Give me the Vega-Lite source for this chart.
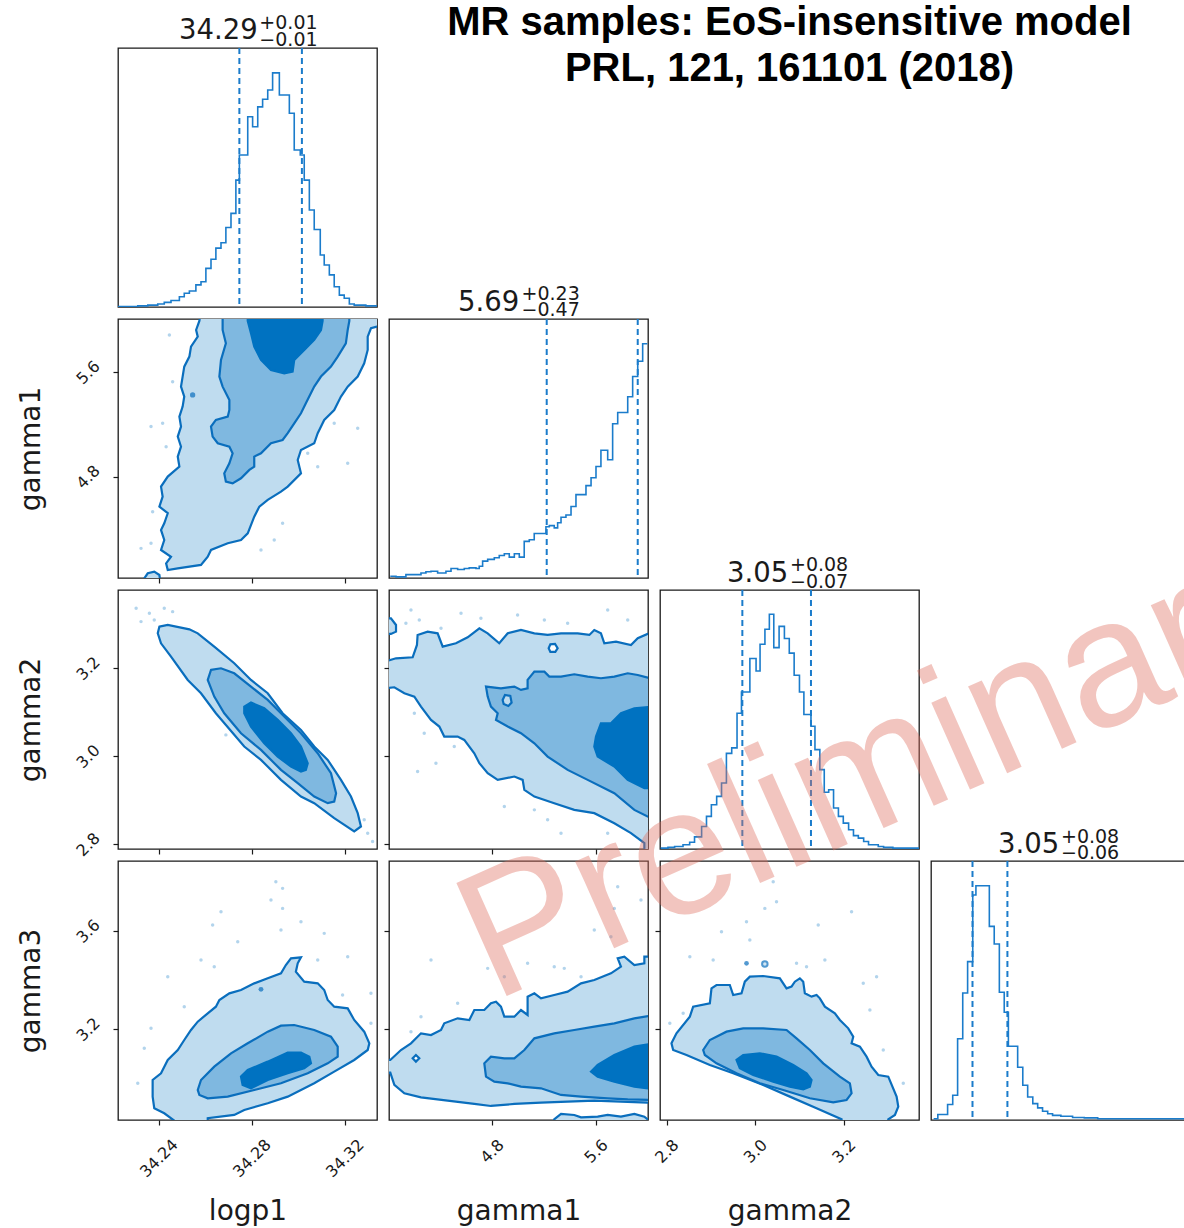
{
"$schema": "https://vega.github.io/schema/vega-lite/v6.json",
"padding": {"left": 16, "top": 3, "right": -146, "bottom": 0},
"background": "white",
"columns": 4,
"spacing": 12,
"bounds": "flush",
"config": {
  "font": "DejaVu Sans",
  "view": {"stroke": "#1a1a1a", "strokeWidth": 1.3},
  "axis": {"domain": false, "grid": false, "tickSize": 5, "tickColor": "#1a1a1a", "tickWidth": 1.2, "labelFont": "DejaVu Sans", "labelFontSize": 16, "labelColor": "#1a1a1a", "titleFont": "DejaVu Sans", "titleFontSize": 28, "titleFontWeight": "normal", "titleColor": "#1a1a1a"}
},
"datasets": {
"h0": [{"x":34.2224,"c":1},{"x":34.2310,"c":3},{"x":34.2353,"c":5},{"x":34.2396,"c":8},{"x":34.2424,"c":12},{"x":34.2453,"c":17},{"x":34.2489,"c":27},{"x":34.2510,"c":36},{"x":34.2532,"c":42},{"x":34.2560,"c":58},{"x":34.2582,"c":66},{"x":34.2603,"c":101},{"x":34.2625,"c":125},{"x":34.2646,"c":154},{"x":34.2668,"c":168},{"x":34.2689,"c":208},{"x":34.2711,"c":245},{"x":34.2732,"c":332},{"x":34.2747,"c":398},{"x":34.2783,"c":498},{"x":34.2804,"c":472},{"x":34.2826,"c":524},{"x":34.2847,"c":544},{"x":34.2869,"c":568},{"x":34.2890,"c":613},{"x":34.2919,"c":555},{"x":34.2962,"c":507},{"x":34.2983,"c":411},{"x":34.3009,"c":398},{"x":34.3026,"c":332},{"x":34.3048,"c":254},{"x":34.3069,"c":203},{"x":34.3095,"c":136},{"x":34.3112,"c":110},{"x":34.3134,"c":84},{"x":34.3155,"c":53},{"x":34.3177,"c":31},{"x":34.3198,"c":23},{"x":34.3220,"c":8},{"x":34.3241,"c":5},{"x":34.3291,"c":3},{"x":34.3339,"c":3}],
"h1": [{"x":4.018,"c":3},{"x":4.062,"c":2},{"x":4.138,"c":6},{"x":4.254,"c":9},{"x":4.292,"c":11},{"x":4.331,"c":12},{"x":4.382,"c":9},{"x":4.446,"c":12},{"x":4.485,"c":17},{"x":4.536,"c":15},{"x":4.587,"c":17},{"x":4.625,"c":18},{"x":4.677,"c":17},{"x":4.702,"c":21},{"x":4.728,"c":30},{"x":4.767,"c":33},{"x":4.818,"c":36},{"x":4.856,"c":40},{"x":4.895,"c":43},{"x":4.933,"c":37},{"x":4.972,"c":43},{"x":5.010,"c":37},{"x":5.048,"c":65},{"x":5.087,"c":68},{"x":5.125,"c":79},{"x":5.215,"c":91},{"x":5.241,"c":93},{"x":5.279,"c":89},{"x":5.305,"c":98},{"x":5.331,"c":108},{"x":5.369,"c":112},{"x":5.408,"c":127},{"x":5.446,"c":148},{"x":5.523,"c":164},{"x":5.562,"c":178},{"x":5.600,"c":198},{"x":5.638,"c":227},{"x":5.690,"c":210},{"x":5.728,"c":274},{"x":5.767,"c":294},{"x":5.844,"c":322},{"x":5.882,"c":358},{"x":5.921,"c":385},{"x":5.959,"c":416},{"x":5.995,"c":416}],
"h2": [{"x":2.7865,"c":2},{"x":2.803,"c":4},{"x":2.818,"c":6},{"x":2.837,"c":10},{"x":2.852,"c":16},{"x":2.863,"c":29},{"x":2.879,"c":54},{"x":2.890,"c":78},{"x":2.901,"c":106},{"x":2.913,"c":126},{"x":2.924,"c":158},{"x":2.935,"c":229},{"x":2.947,"c":242},{"x":2.959,"c":325},{"x":2.969,"c":376},{"x":2.988,"c":456},{"x":3.002,"c":426},{"x":3.011,"c":490},{"x":3.022,"c":526},{"x":3.032,"c":562},{"x":3.042,"c":482},{"x":3.054,"c":533},{"x":3.066,"c":504},{"x":3.077,"c":469},{"x":3.088,"c":416},{"x":3.100,"c":376},{"x":3.110,"c":322},{"x":3.126,"c":294},{"x":3.135,"c":238},{"x":3.146,"c":190},{"x":3.156,"c":136},{"x":3.166,"c":142},{"x":3.177,"c":98},{"x":3.188,"c":78},{"x":3.199,"c":62},{"x":3.211,"c":46},{"x":3.222,"c":32},{"x":3.233,"c":26},{"x":3.245,"c":18},{"x":3.256,"c":10},{"x":3.278,"c":6},{"x":3.290,"c":4},{"x":3.311,"c":2},{"x":3.370,"c":2}],
"h3": [{"x":2.826,"c":3},{"x":2.843,"c":13},{"x":2.883,"c":37},{"x":2.904,"c":59},{"x":2.924,"c":194},{"x":2.945,"c":303},{"x":2.965,"c":378},{"x":2.986,"c":537},{"x":2.999,"c":559},{"x":3.054,"c":462},{"x":3.074,"c":420},{"x":3.095,"c":305},{"x":3.115,"c":257},{"x":3.132,"c":176},{"x":3.170,"c":126},{"x":3.191,"c":83},{"x":3.211,"c":55},{"x":3.232,"c":39},{"x":3.252,"c":29},{"x":3.272,"c":21},{"x":3.293,"c":15},{"x":3.313,"c":11},{"x":3.347,"c":9},{"x":3.395,"c":6},{"x":3.443,"c":5},{"x":3.498,"c":3},{"x":3.876,"c":3}],
"t0": [{"k":"m","t":"34.29","x":34.2826,"c":700.8},{"k":"s","t":"+0.01","x":34.2833,"c":727},{"k":"s","t":"−0.01","x":34.2833,"c":683.2}],
"t1": [{"k":"m","t":"5.69","x":5.010,"c":474.7},{"k":"s","t":"+0.23","x":5.027,"c":494.6},{"k":"s","t":"−0.47","x":5.027,"c":465.3}],
"t2": [{"k":"m","t":"3.05","x":3.0747,"c":640},{"k":"s","t":"+0.08","x":3.0786,"c":665.5},{"k":"s","t":"−0.07","x":3.0786,"c":625.5}],
"t3": [{"k":"m","t":"3.05","x":3.3405,"c":636.4},{"k":"s","t":"+0.08","x":3.3474,"c":661.4},{"k":"s","t":"−0.06","x":3.3474,"c":622}],
"c10": [
{"p":"a","l":0,"x":34.2582,"y":6.078},{"p":"a","l":0,"x":34.2575,"y":5.993},{"p":"a","l":0,"x":34.2561,"y":5.924},{"p":"a","l":0,"x":34.2568,"y":5.873},{"p":"a","l":0,"x":34.2539,"y":5.797},{"p":"a","l":0,"x":34.2532,"y":5.720},{"p":"a","l":0,"x":34.2510,"y":5.643},{"p":"a","l":0,"x":34.2503,"y":5.567},{"p":"a","l":0,"x":34.2496,"y":5.490},{"p":"a","l":0,"x":34.2510,"y":5.414},{"p":"a","l":0,"x":34.2503,"y":5.337},{"p":"a","l":0,"x":34.2489,"y":5.260},{"p":"a","l":0,"x":34.2496,"y":5.184},{"p":"a","l":0,"x":34.2482,"y":5.107},{"p":"a","l":0,"x":34.2496,"y":5.030},{"p":"a","l":0,"x":34.2482,"y":4.954},{"p":"a","l":0,"x":34.2489,"y":4.877},{"p":"a","l":0,"x":34.2439,"y":4.801},{"p":"a","l":0,"x":34.2410,"y":4.724},{"p":"a","l":0,"x":34.2417,"y":4.647},{"p":"a","l":0,"x":34.2403,"y":4.571},{"p":"a","l":0,"x":34.2439,"y":4.520},{"p":"a","l":0,"x":34.2424,"y":4.443},{"p":"a","l":0,"x":34.2410,"y":4.392},{"p":"a","l":0,"x":34.2424,"y":4.315},{"p":"a","l":0,"x":34.2410,"y":4.239},{"p":"a","l":0,"x":34.2453,"y":4.187},{"p":"a","l":0,"x":34.2432,"y":4.136},{"p":"a","l":0,"x":34.2439,"y":4.085},{"p":"a","l":0,"x":34.2482,"y":4.098},{"p":"a","l":0,"x":34.2582,"y":4.124},{"p":"a","l":0,"x":34.2611,"y":4.187},{"p":"a","l":0,"x":34.2625,"y":4.239},{"p":"a","l":0,"x":34.2697,"y":4.290},{"p":"a","l":0,"x":34.2754,"y":4.315},{"p":"a","l":0,"x":34.2783,"y":4.366},{"p":"a","l":0,"x":34.2811,"y":4.494},{"p":"a","l":0,"x":34.2833,"y":4.571},{"p":"a","l":0,"x":34.2869,"y":4.622},{"p":"a","l":0,"x":34.2926,"y":4.686},{"p":"a","l":0,"x":34.2955,"y":4.724},{"p":"a","l":0,"x":34.3012,"y":4.826},{"p":"a","l":0,"x":34.2998,"y":4.928},{"p":"a","l":0,"x":34.3012,"y":5.005},{"p":"a","l":0,"x":34.3069,"y":5.056},{"p":"a","l":0,"x":34.3084,"y":5.133},{"p":"a","l":0,"x":34.3112,"y":5.235},{"p":"a","l":0,"x":34.3155,"y":5.311},{"p":"a","l":0,"x":34.3184,"y":5.414},{"p":"a","l":0,"x":34.3213,"y":5.490},{"p":"a","l":0,"x":34.3256,"y":5.567},{"p":"a","l":0,"x":34.3284,"y":5.669},{"p":"a","l":0,"x":34.3299,"y":5.771},{"p":"a","l":0,"x":34.3299,"y":5.873},{"p":"a","l":0,"x":34.3313,"y":5.937},{"p":"a","l":0,"x":34.3339,"y":5.950},{"p":"a","l":0,"x":34.3370,"y":5.963},{"p":"a","l":0,"x":34.3370,"y":6.078},
{"p":"b","l":0,"x":34.2336,"y":3.996},{"p":"b","l":0,"x":34.2338,"y":4.021},{"p":"b","l":0,"x":34.2353,"y":4.060},{"p":"b","l":0,"x":34.2381,"y":4.073},{"p":"b","l":0,"x":34.2403,"y":4.047},{"p":"b","l":0,"x":34.2407,"y":3.996},
{"p":"c","l":1,"x":34.2675,"y":6.078},{"p":"c","l":1,"x":34.2675,"y":5.993},{"p":"c","l":1,"x":34.2675,"y":5.924},{"p":"c","l":1,"x":34.2689,"y":5.822},{"p":"c","l":1,"x":34.2668,"y":5.695},{"p":"c","l":1,"x":34.2661,"y":5.567},{"p":"c","l":1,"x":34.2675,"y":5.490},{"p":"c","l":1,"x":34.2704,"y":5.388},{"p":"c","l":1,"x":34.2704,"y":5.311},{"p":"c","l":1,"x":34.2697,"y":5.260},{"p":"c","l":1,"x":34.2646,"y":5.235},{"p":"c","l":1,"x":34.2625,"y":5.184},{"p":"c","l":1,"x":34.2632,"y":5.107},{"p":"c","l":1,"x":34.2654,"y":5.056},{"p":"c","l":1,"x":34.2704,"y":5.030},{"p":"c","l":1,"x":34.2718,"y":4.979},{"p":"c","l":1,"x":34.2704,"y":4.903},{"p":"c","l":1,"x":34.2682,"y":4.826},{"p":"c","l":1,"x":34.2689,"y":4.762},{"p":"c","l":1,"x":34.2718,"y":4.749},{"p":"c","l":1,"x":34.2754,"y":4.788},{"p":"c","l":1,"x":34.2790,"y":4.852},{"p":"c","l":1,"x":34.2811,"y":4.877},{"p":"c","l":1,"x":34.2811,"y":4.954},{"p":"c","l":1,"x":34.2840,"y":4.979},{"p":"c","l":1,"x":34.2883,"y":5.056},{"p":"c","l":1,"x":34.2933,"y":5.081},{"p":"c","l":1,"x":34.2955,"y":5.133},{"p":"c","l":1,"x":34.2983,"y":5.209},{"p":"c","l":1,"x":34.3012,"y":5.286},{"p":"c","l":1,"x":34.3033,"y":5.362},{"p":"c","l":1,"x":34.3069,"y":5.490},{"p":"c","l":1,"x":34.3098,"y":5.567},{"p":"c","l":1,"x":34.3141,"y":5.643},{"p":"c","l":1,"x":34.3170,"y":5.720},{"p":"c","l":1,"x":34.3205,"y":5.822},{"p":"c","l":1,"x":34.3213,"y":5.924},{"p":"c","l":1,"x":34.3220,"y":5.993},{"p":"c","l":1,"x":34.3220,"y":6.078},
{"p":"d","l":2,"x":34.2783,"y":6.078},{"p":"d","l":2,"x":34.2783,"y":5.993},{"p":"d","l":2,"x":34.2797,"y":5.899},{"p":"d","l":2,"x":34.2811,"y":5.797},{"p":"d","l":2,"x":34.2840,"y":5.695},{"p":"d","l":2,"x":34.2883,"y":5.618},{"p":"d","l":2,"x":34.2940,"y":5.592},{"p":"d","l":2,"x":34.2976,"y":5.605},{"p":"d","l":2,"x":34.2983,"y":5.695},{"p":"d","l":2,"x":34.3026,"y":5.771},{"p":"d","l":2,"x":34.3069,"y":5.848},{"p":"d","l":2,"x":34.3098,"y":5.924},{"p":"d","l":2,"x":34.3105,"y":5.993},{"p":"d","l":2,"x":34.3105,"y":6.078}
],
"c20": [
{"p":"a","l":0,"x":34.2403,"y":3.2947},{"p":"a","l":0,"x":34.2439,"y":3.2985},{"p":"a","l":0,"x":34.2532,"y":3.2886},{"p":"a","l":0,"x":34.2568,"y":3.2795},{"p":"a","l":0,"x":34.2639,"y":3.2492},{"p":"a","l":0,"x":34.2725,"y":3.2114},{"p":"a","l":0,"x":34.2797,"y":3.1735},{"p":"a","l":0,"x":34.2869,"y":3.1432},{"p":"a","l":0,"x":34.2933,"y":3.0977},{"p":"a","l":0,"x":34.3012,"y":3.0598},{"p":"a","l":0,"x":34.3069,"y":3.0220},{"p":"a","l":0,"x":34.3127,"y":2.9917},{"p":"a","l":0,"x":34.3184,"y":2.9462},{"p":"a","l":0,"x":34.3227,"y":2.9083},{"p":"a","l":0,"x":34.3256,"y":2.8705},{"p":"a","l":0,"x":34.3270,"y":2.8402},{"p":"a","l":0,"x":34.3241,"y":2.8288},{"p":"a","l":0,"x":34.3155,"y":2.8591},{"p":"a","l":0,"x":34.3069,"y":2.8932},{"p":"a","l":0,"x":34.3012,"y":2.9083},{"p":"a","l":0,"x":34.2926,"y":2.9462},{"p":"a","l":0,"x":34.2840,"y":2.9917},{"p":"a","l":0,"x":34.2768,"y":3.0220},{"p":"a","l":0,"x":34.2646,"y":3.0977},{"p":"a","l":0,"x":34.2582,"y":3.1432},{"p":"a","l":0,"x":34.2525,"y":3.1735},{"p":"a","l":0,"x":34.2453,"y":3.2265},{"p":"a","l":0,"x":34.2410,"y":3.2568},{"p":"a","l":0,"x":34.2396,"y":3.2795},
{"p":"b","l":1,"x":34.2625,"y":3.1962},{"p":"b","l":1,"x":34.2668,"y":3.2},{"p":"b","l":1,"x":34.2725,"y":3.1886},{"p":"b","l":1,"x":34.2797,"y":3.1583},{"p":"b","l":1,"x":34.2869,"y":3.1280},{"p":"b","l":1,"x":34.2940,"y":3.0902},{"p":"b","l":1,"x":34.3012,"y":3.0523},{"p":"b","l":1,"x":34.3084,"y":3.0068},{"p":"b","l":1,"x":34.3141,"y":2.9614},{"p":"b","l":1,"x":34.3163,"y":2.9159},{"p":"b","l":1,"x":34.3155,"y":2.8970},{"p":"b","l":1,"x":34.3127,"y":2.8932},{"p":"b","l":1,"x":34.3069,"y":2.9083},{"p":"b","l":1,"x":34.2998,"y":2.9386},{"p":"b","l":1,"x":34.2926,"y":2.9689},{"p":"b","l":1,"x":34.2840,"y":3.0144},{"p":"b","l":1,"x":34.2754,"y":3.0523},{"p":"b","l":1,"x":34.2682,"y":3.0977},{"p":"b","l":1,"x":34.2639,"y":3.1356},{"p":"b","l":1,"x":34.2611,"y":3.1735},
{"p":"c","l":2,"x":34.2768,"y":3.1129},{"p":"c","l":2,"x":34.2797,"y":3.1220},{"p":"c","l":2,"x":34.2854,"y":3.1091},{"p":"c","l":2,"x":34.2912,"y":3.0826},{"p":"c","l":2,"x":34.2969,"y":3.0523},{"p":"c","l":2,"x":34.3012,"y":3.0220},{"p":"c","l":2,"x":34.3041,"y":2.9841},{"p":"c","l":2,"x":34.3033,"y":2.9689},{"p":"c","l":2,"x":34.3012,"y":2.9652},{"p":"c","l":2,"x":34.2969,"y":2.9765},{"p":"c","l":2,"x":34.2912,"y":2.9992},{"p":"c","l":2,"x":34.2854,"y":3.0295},{"p":"c","l":2,"x":34.2797,"y":3.0674},{"p":"c","l":2,"x":34.2768,"y":3.0977}
],
"c21": [
{"p":"a","l":0,"x":3.972,"y":3.1545},{"p":"a","l":0,"x":3.972,"y":3.2152},{"p":"a","l":0,"x":4.062,"y":3.2227},{"p":"a","l":0,"x":4.190,"y":3.2250},{"p":"a","l":0,"x":4.223,"y":3.2530},{"p":"a","l":0,"x":4.228,"y":3.2758},{"p":"a","l":0,"x":4.305,"y":3.2833},{"p":"a","l":0,"x":4.382,"y":3.2795},{"p":"a","l":0,"x":4.421,"y":3.2492},{"p":"a","l":0,"x":4.523,"y":3.2568},{"p":"a","l":0,"x":4.613,"y":3.2705},{"p":"a","l":0,"x":4.703,"y":3.2909},{"p":"a","l":0,"x":4.767,"y":3.2795},{"p":"a","l":0,"x":4.856,"y":3.2568},{"p":"a","l":0,"x":4.921,"y":3.2795},{"p":"a","l":0,"x":5.023,"y":3.2871},{"p":"a","l":0,"x":5.126,"y":3.2795},{"p":"a","l":0,"x":5.228,"y":3.2758},{"p":"a","l":0,"x":5.331,"y":3.2795},{"p":"a","l":0,"x":5.459,"y":3.2795},{"p":"a","l":0,"x":5.549,"y":3.2758},{"p":"a","l":0,"x":5.587,"y":3.2871},{"p":"a","l":0,"x":5.638,"y":3.2795},{"p":"a","l":0,"x":5.664,"y":3.2568},{"p":"a","l":0,"x":5.754,"y":3.2606},{"p":"a","l":0,"x":5.869,"y":3.2530},{"p":"a","l":0,"x":5.921,"y":3.2682},{"p":"a","l":0,"x":5.997,"y":3.2780},{"p":"a","l":0,"x":6.049,"y":3.2780},{"p":"a","l":0,"x":6.049,"y":2.7720},{"p":"a","l":0,"x":5.972,"y":2.7720},{"p":"a","l":0,"x":5.972,"y":2.8023},{"p":"a","l":0,"x":5.869,"y":2.8250},{"p":"a","l":0,"x":5.741,"y":2.8477},{"p":"a","l":0,"x":5.587,"y":2.8705},{"p":"a","l":0,"x":5.433,"y":2.8780},{"p":"a","l":0,"x":5.279,"y":2.8932},{"p":"a","l":0,"x":5.126,"y":2.9083},{"p":"a","l":0,"x":5.049,"y":2.9235},{"p":"a","l":0,"x":5.036,"y":2.9462},{"p":"a","l":0,"x":4.972,"y":2.9538},{"p":"a","l":0,"x":4.844,"y":2.9462},{"p":"a","l":0,"x":4.767,"y":2.9614},{"p":"a","l":0,"x":4.703,"y":2.9841},{"p":"a","l":0,"x":4.664,"y":3.0068},{"p":"a","l":0,"x":4.587,"y":3.0371},{"p":"a","l":0,"x":4.536,"y":3.0447},{"p":"a","l":0,"x":4.433,"y":3.0447},{"p":"a","l":0,"x":4.395,"y":3.0674},{"p":"a","l":0,"x":4.331,"y":3.0826},{"p":"a","l":0,"x":4.254,"y":3.1129},{"p":"a","l":0,"x":4.203,"y":3.1356},{"p":"a","l":0,"x":4.126,"y":3.1432},{"p":"a","l":0,"x":4.049,"y":3.1568},
{"p":"b","l":0,"x":3.972,"y":3.3136},{"p":"b","l":0,"x":4.023,"y":3.3136},{"p":"b","l":0,"x":4.062,"y":3.2985},{"p":"b","l":0,"x":4.062,"y":3.2833},{"p":"b","l":0,"x":4.023,"y":3.2780},{"p":"b","l":0,"x":3.972,"y":3.2780},
{"p":"c","l":1,"x":6.049,"y":3.1811},{"p":"c","l":1,"x":5.997,"y":3.1788},{"p":"c","l":1,"x":5.921,"y":3.1848},{"p":"c","l":1,"x":5.844,"y":3.1886},{"p":"c","l":1,"x":5.741,"y":3.1811},{"p":"c","l":1,"x":5.638,"y":3.1773},{"p":"c","l":1,"x":5.536,"y":3.1811},{"p":"c","l":1,"x":5.433,"y":3.1864},{"p":"c","l":1,"x":5.331,"y":3.1811},{"p":"c","l":1,"x":5.241,"y":3.1811},{"p":"c","l":1,"x":5.203,"y":3.1924},{"p":"c","l":1,"x":5.126,"y":3.1924},{"p":"c","l":1,"x":5.074,"y":3.1735},{"p":"c","l":1,"x":5.074,"y":3.1545},{"p":"c","l":1,"x":5.023,"y":3.1508},{"p":"c","l":1,"x":4.972,"y":3.1583},{"p":"c","l":1,"x":4.869,"y":3.1545},{"p":"c","l":1,"x":4.754,"y":3.1583},{"p":"c","l":1,"x":4.767,"y":3.1356},{"p":"c","l":1,"x":4.792,"y":3.1129},{"p":"c","l":1,"x":4.844,"y":3.0977},{"p":"c","l":1,"x":4.831,"y":3.0826},{"p":"c","l":1,"x":4.921,"y":3.0674},{"p":"c","l":1,"x":5.023,"y":3.0523},{"p":"c","l":1,"x":5.126,"y":3.0295},{"p":"c","l":1,"x":5.228,"y":2.9992},{"p":"c","l":1,"x":5.382,"y":2.9689},{"p":"c","l":1,"x":5.536,"y":2.9462},{"p":"c","l":1,"x":5.741,"y":2.9159},{"p":"c","l":1,"x":5.895,"y":2.8780},{"p":"c","l":1,"x":5.997,"y":2.8629},{"p":"c","l":1,"x":6.049,"y":2.8591},
{"p":"d","l":2,"x":6.049,"y":3.1129},{"p":"d","l":2,"x":5.895,"y":3.1091},{"p":"d","l":2,"x":5.792,"y":3.0977},{"p":"d","l":2,"x":5.715,"y":3.0750},{"p":"d","l":2,"x":5.638,"y":3.0750},{"p":"d","l":2,"x":5.600,"y":3.0447},{"p":"d","l":2,"x":5.587,"y":3.0220},{"p":"d","l":2,"x":5.613,"y":2.9992},{"p":"d","l":2,"x":5.741,"y":2.9765},{"p":"d","l":2,"x":5.844,"y":2.9462},{"p":"d","l":2,"x":5.972,"y":2.9273},{"p":"d","l":2,"x":6.049,"y":2.9273},
{"p":"e","l":3,"x":5.236,"y":3.2455},{"p":"e","l":3,"x":5.249,"y":3.2545},{"p":"e","l":3,"x":5.285,"y":3.2553},{"p":"e","l":3,"x":5.305,"y":3.2455},{"p":"e","l":3,"x":5.287,"y":3.2371},{"p":"e","l":3,"x":5.249,"y":3.2371},
{"p":"f","l":4,"x":4.882,"y":3.1280},{"p":"f","l":4,"x":4.900,"y":3.1394},{"p":"f","l":4,"x":4.941,"y":3.1371},{"p":"f","l":4,"x":4.951,"y":3.1220},{"p":"f","l":4,"x":4.926,"y":3.1144},{"p":"f","l":4,"x":4.890,"y":3.1189}
],
"c30": [
{"p":"a","l":0,"x":34.2467,"y":2.8041},{"p":"a","l":0,"x":34.2467,"y":2.8285},{"p":"a","l":0,"x":34.2424,"y":2.8583},{"p":"a","l":0,"x":34.2381,"y":2.8786},{"p":"a","l":0,"x":34.2374,"y":2.9261},{"p":"a","l":0,"x":34.2374,"y":2.9939},{"p":"a","l":0,"x":34.2410,"y":3.0210},{"p":"a","l":0,"x":34.2439,"y":3.0753},{"p":"a","l":0,"x":34.2482,"y":3.1159},{"p":"a","l":0,"x":34.2510,"y":3.1566},{"p":"a","l":0,"x":34.2539,"y":3.1973},{"p":"a","l":0,"x":34.2568,"y":3.2312},{"p":"a","l":0,"x":34.2611,"y":3.2651},{"p":"a","l":0,"x":34.2646,"y":3.2922},{"p":"a","l":0,"x":34.2661,"y":3.3193},{"p":"a","l":0,"x":34.2704,"y":3.3464},{"p":"a","l":0,"x":34.2754,"y":3.3600},{"p":"a","l":0,"x":34.2811,"y":3.3871},{"p":"a","l":0,"x":34.2869,"y":3.4075},{"p":"a","l":0,"x":34.2926,"y":3.4278},{"p":"a","l":0,"x":34.2947,"y":3.4617},{"p":"a","l":0,"x":34.2969,"y":3.4888},{"p":"a","l":0,"x":34.3012,"y":3.4929},{"p":"a","l":0,"x":34.2998,"y":3.4685},{"p":"a","l":0,"x":34.2990,"y":3.4346},{"p":"a","l":0,"x":34.3026,"y":3.3939},{"p":"a","l":0,"x":34.3084,"y":3.3871},{"p":"a","l":0,"x":34.3112,"y":3.3600},{"p":"a","l":0,"x":34.3127,"y":3.3193},{"p":"a","l":0,"x":34.3155,"y":3.2922},{"p":"a","l":0,"x":34.3213,"y":3.2854},{"p":"a","l":0,"x":34.3241,"y":3.2380},{"p":"a","l":0,"x":34.3284,"y":3.1905},{"p":"a","l":0,"x":34.3306,"y":3.1431},{"p":"a","l":0,"x":34.3299,"y":3.1159},{"p":"a","l":0,"x":34.3241,"y":3.0753},{"p":"a","l":0,"x":34.3155,"y":3.0278},{"p":"a","l":0,"x":34.3069,"y":2.9803},{"p":"a","l":0,"x":34.2955,"y":2.9261},{"p":"a","l":0,"x":34.2869,"y":2.8990},{"p":"a","l":0,"x":34.2768,"y":2.8719},{"p":"a","l":0,"x":34.2725,"y":2.8515},{"p":"a","l":0,"x":34.2611,"y":2.8380},{"p":"a","l":0,"x":34.2611,"y":2.8041},
{"p":"b","l":1,"x":34.2568,"y":2.9532},{"p":"b","l":1,"x":34.2582,"y":2.9939},{"p":"b","l":1,"x":34.2639,"y":3.0481},{"p":"b","l":1,"x":34.2711,"y":3.1024},{"p":"b","l":1,"x":34.2783,"y":3.1431},{"p":"b","l":1,"x":34.2869,"y":3.1905},{"p":"b","l":1,"x":34.2926,"y":3.2149},{"p":"b","l":1,"x":34.2983,"y":3.2176},{"p":"b","l":1,"x":34.3069,"y":3.1973},{"p":"b","l":1,"x":34.3141,"y":3.1702},{"p":"b","l":1,"x":34.3170,"y":3.1295},{"p":"b","l":1,"x":34.3170,"y":3.0888},{"p":"b","l":1,"x":34.3127,"y":3.0617},{"p":"b","l":1,"x":34.3041,"y":3.0210},{"p":"b","l":1,"x":34.2926,"y":2.9803},{"p":"b","l":1,"x":34.2811,"y":2.9532},{"p":"b","l":1,"x":34.2697,"y":2.9261},{"p":"b","l":1,"x":34.2611,"y":2.9193},{"p":"b","l":1,"x":34.2575,"y":2.9329},
{"p":"c","l":2,"x":34.2754,"y":3.0075},{"p":"c","l":2,"x":34.2783,"y":3.0346},{"p":"c","l":2,"x":34.2869,"y":3.0685},{"p":"c","l":2,"x":34.2955,"y":3.1051},{"p":"c","l":2,"x":34.3012,"y":3.1051},{"p":"c","l":2,"x":34.3048,"y":3.0888},{"p":"c","l":2,"x":34.3055,"y":3.0617},{"p":"c","l":2,"x":34.3026,"y":3.0414},{"p":"c","l":2,"x":34.2955,"y":3.0210},{"p":"c","l":2,"x":34.2869,"y":2.9939},{"p":"c","l":2,"x":34.2797,"y":2.9600},{"p":"c","l":2,"x":34.2761,"y":2.9736}
],
"c31": [
{"p":"a","l":0,"x":3.972,"y":3.0210},{"p":"a","l":0,"x":3.972,"y":3.0753},{"p":"a","l":0,"x":4.018,"y":3.0753},{"p":"a","l":0,"x":4.100,"y":3.1159},{"p":"a","l":0,"x":4.177,"y":3.1431},{"p":"a","l":0,"x":4.254,"y":3.1837},{"p":"a","l":0,"x":4.331,"y":3.1769},{"p":"a","l":0,"x":4.408,"y":3.1973},{"p":"a","l":0,"x":4.433,"y":3.2244},{"p":"a","l":0,"x":4.536,"y":3.2447},{"p":"a","l":0,"x":4.626,"y":3.2380},{"p":"a","l":0,"x":4.664,"y":3.2786},{"p":"a","l":0,"x":4.741,"y":3.2786},{"p":"a","l":0,"x":4.792,"y":3.3058},{"p":"a","l":0,"x":4.831,"y":3.3125},{"p":"a","l":0,"x":4.869,"y":3.2922},{"p":"a","l":0,"x":4.895,"y":3.2515},{"p":"a","l":0,"x":4.972,"y":3.2515},{"p":"a","l":0,"x":5.023,"y":3.2786},{"p":"a","l":0,"x":5.074,"y":3.2583},{"p":"a","l":0,"x":5.074,"y":3.3329},{"p":"a","l":0,"x":5.126,"y":3.3464},{"p":"a","l":0,"x":5.177,"y":3.3261},{"p":"a","l":0,"x":5.279,"y":3.3397},{"p":"a","l":0,"x":5.382,"y":3.3532},{"p":"a","l":0,"x":5.485,"y":3.3871},{"p":"a","l":0,"x":5.587,"y":3.4007},{"p":"a","l":0,"x":5.715,"y":3.4278},{"p":"a","l":0,"x":5.792,"y":3.4549},{"p":"a","l":0,"x":5.767,"y":3.4888},{"p":"a","l":0,"x":5.818,"y":3.4956},{"p":"a","l":0,"x":5.895,"y":3.4617},{"p":"a","l":0,"x":5.972,"y":3.4685},{"p":"a","l":0,"x":5.972,"y":3.4956},{"p":"a","l":0,"x":6.049,"y":3.4956},{"p":"a","l":0,"x":6.049,"y":2.9017},{"p":"a","l":0,"x":5.997,"y":2.9017},{"p":"a","l":0,"x":5.792,"y":2.9058},{"p":"a","l":0,"x":5.587,"y":2.9098},{"p":"a","l":0,"x":5.382,"y":2.9058},{"p":"a","l":0,"x":5.177,"y":2.9017},{"p":"a","l":0,"x":4.972,"y":2.8963},{"p":"a","l":0,"x":4.792,"y":2.8881},{"p":"a","l":0,"x":4.664,"y":2.8963},{"p":"a","l":0,"x":4.459,"y":2.9098},{"p":"a","l":0,"x":4.254,"y":2.9234},{"p":"a","l":0,"x":4.126,"y":2.9397},{"p":"a","l":0,"x":4.049,"y":2.9736},{"p":"a","l":0,"x":4.018,"y":3.0237},{"p":"a","l":0,"x":3.972,"y":3.0237},
{"p":"b","l":0,"x":5.279,"y":2.8041},{"p":"b","l":0,"x":5.279,"y":2.8339},{"p":"b","l":0,"x":5.331,"y":2.8556},{"p":"b","l":0,"x":5.433,"y":2.8515},{"p":"b","l":0,"x":5.485,"y":2.8420},{"p":"b","l":0,"x":5.613,"y":2.8447},{"p":"b","l":0,"x":5.690,"y":2.8515},{"p":"b","l":0,"x":5.792,"y":2.8447},{"p":"b","l":0,"x":5.895,"y":2.8556},{"p":"b","l":0,"x":5.972,"y":2.8447},{"p":"b","l":0,"x":5.997,"y":2.8339},{"p":"b","l":0,"x":6.049,"y":2.8041},
{"p":"c","l":1,"x":6.049,"y":3.2583},{"p":"c","l":1,"x":5.895,"y":3.2447},{"p":"c","l":1,"x":5.741,"y":3.2244},{"p":"c","l":1,"x":5.587,"y":3.2108},{"p":"c","l":1,"x":5.433,"y":3.1973},{"p":"c","l":1,"x":5.279,"y":3.1837},{"p":"c","l":1,"x":5.126,"y":3.1634},{"p":"c","l":1,"x":5.049,"y":3.1159},{"p":"c","l":1,"x":4.972,"y":3.0820},{"p":"c","l":1,"x":4.895,"y":3.0820},{"p":"c","l":1,"x":4.792,"y":3.0888},{"p":"c","l":1,"x":4.741,"y":3.0617},{"p":"c","l":1,"x":4.754,"y":3.0075},{"p":"c","l":1,"x":4.818,"y":2.9871},{"p":"c","l":1,"x":4.921,"y":2.9803},{"p":"c","l":1,"x":5.023,"y":2.9668},{"p":"c","l":1,"x":5.177,"y":2.9600},{"p":"c","l":1,"x":5.331,"y":2.9329},{"p":"c","l":1,"x":5.485,"y":2.9261},{"p":"c","l":1,"x":5.690,"y":2.9193},{"p":"c","l":1,"x":5.844,"y":2.9153},{"p":"c","l":1,"x":6.049,"y":2.9125},
{"p":"d","l":2,"x":6.049,"y":3.1431},{"p":"d","l":2,"x":5.895,"y":3.1295},{"p":"d","l":2,"x":5.741,"y":3.0956},{"p":"d","l":2,"x":5.613,"y":3.0549},{"p":"d","l":2,"x":5.562,"y":3.0278},{"p":"d","l":2,"x":5.613,"y":3.0075},{"p":"d","l":2,"x":5.741,"y":2.9871},{"p":"d","l":2,"x":5.895,"y":2.9668},{"p":"d","l":2,"x":6.049,"y":2.9559},
{"p":"e","l":3,"x":4.190,"y":3.0820},{"p":"e","l":3,"x":4.215,"y":3.0956},{"p":"e","l":3,"x":4.241,"y":3.0820},{"p":"e","l":3,"x":4.215,"y":3.0685}
],
"c32": [
{"p":"a","l":0,"x":2.8109,"y":3.1431},{"p":"a","l":0,"x":2.8222,"y":3.1837},{"p":"a","l":0,"x":2.8524,"y":3.2515},{"p":"a","l":0,"x":2.8599,"y":3.2922},{"p":"a","l":0,"x":2.8976,"y":3.3058},{"p":"a","l":0,"x":2.9013,"y":3.3668},{"p":"a","l":0,"x":2.9126,"y":3.3803},{"p":"a","l":0,"x":2.9427,"y":3.3803},{"p":"a","l":0,"x":2.9503,"y":3.3397},{"p":"a","l":0,"x":2.9691,"y":3.3464},{"p":"a","l":0,"x":2.9766,"y":3.3939},{"p":"a","l":0,"x":2.9879,"y":3.4142},{"p":"a","l":0,"x":3.0181,"y":3.4169},{"p":"a","l":0,"x":3.0557,"y":3.4075},{"p":"a","l":0,"x":3.0708,"y":3.3668},{"p":"a","l":0,"x":3.0821,"y":3.3736},{"p":"a","l":0,"x":3.0896,"y":3.3939},{"p":"a","l":0,"x":3.1009,"y":3.4075},{"p":"a","l":0,"x":3.1085,"y":3.3939},{"p":"a","l":0,"x":3.1122,"y":3.3464},{"p":"a","l":0,"x":3.1273,"y":3.3329},{"p":"a","l":0,"x":3.1386,"y":3.3397},{"p":"a","l":0,"x":3.1461,"y":3.3261},{"p":"a","l":0,"x":3.1574,"y":3.2922},{"p":"a","l":0,"x":3.1800,"y":3.2651},{"p":"a","l":0,"x":3.1913,"y":3.2380},{"p":"a","l":0,"x":3.2102,"y":3.2041},{"p":"a","l":0,"x":3.2215,"y":3.1702},{"p":"a","l":0,"x":3.2177,"y":3.1431},{"p":"a","l":0,"x":3.2365,"y":3.1295},{"p":"a","l":0,"x":3.2516,"y":3.0888},{"p":"a","l":0,"x":3.2629,"y":3.0481},{"p":"a","l":0,"x":3.2780,"y":3.0142},{"p":"a","l":0,"x":3.3006,"y":3.0075},{"p":"a","l":0,"x":3.3194,"y":2.9261},{"p":"a","l":0,"x":3.3232,"y":2.8854},{"p":"a","l":0,"x":3.3156,"y":2.8515},{"p":"a","l":0,"x":3.3006,"y":2.8339},{"p":"a","l":0,"x":3.3006,"y":2.8041},{"p":"a","l":0,"x":3.1951,"y":2.8041},{"p":"a","l":0,"x":3.1951,"y":2.8339},{"p":"a","l":0,"x":3.1386,"y":2.8786},{"p":"a","l":0,"x":3.0783,"y":2.9261},{"p":"a","l":0,"x":3.0181,"y":2.9736},{"p":"a","l":0,"x":2.9503,"y":3.0210},{"p":"a","l":0,"x":2.8976,"y":3.0549},{"p":"a","l":0,"x":2.8448,"y":3.0956},{"p":"a","l":0,"x":2.8147,"y":3.1159},
{"p":"b","l":1,"x":2.8825,"y":3.1159},{"p":"b","l":1,"x":2.8976,"y":3.1566},{"p":"b","l":1,"x":2.9352,"y":3.1905},{"p":"b","l":1,"x":2.9729,"y":3.2041},{"p":"b","l":1,"x":3.0181,"y":3.2041},{"p":"b","l":1,"x":3.0708,"y":3.1973},{"p":"b","l":1,"x":3.0934,"y":3.1634},{"p":"b","l":1,"x":3.1235,"y":3.1159},{"p":"b","l":1,"x":3.1537,"y":3.0617},{"p":"b","l":1,"x":3.1913,"y":3.0075},{"p":"b","l":1,"x":3.2139,"y":2.9803},{"p":"b","l":1,"x":3.2177,"y":2.9397},{"p":"b","l":1,"x":3.2064,"y":2.9125},{"p":"b","l":1,"x":3.1763,"y":2.9030},{"p":"b","l":1,"x":3.1235,"y":2.9193},{"p":"b","l":1,"x":3.0633,"y":2.9532},{"p":"b","l":1,"x":3.0105,"y":2.9803},{"p":"b","l":1,"x":2.9578,"y":3.0210},{"p":"b","l":1,"x":2.9126,"y":3.0617},{"p":"b","l":1,"x":2.8863,"y":3.0956},
{"p":"c","l":2,"x":2.9578,"y":3.0753},{"p":"c","l":2,"x":2.9729,"y":3.0956},{"p":"c","l":2,"x":3.0105,"y":3.1024},{"p":"c","l":2,"x":3.0482,"y":3.0888},{"p":"c","l":2,"x":3.0859,"y":3.0549},{"p":"c","l":2,"x":3.1160,"y":3.0210},{"p":"c","l":2,"x":3.1273,"y":2.9939},{"p":"c","l":2,"x":3.1235,"y":2.9668},{"p":"c","l":2,"x":3.1085,"y":2.9559},{"p":"c","l":2,"x":3.0783,"y":2.9668},{"p":"c","l":2,"x":3.0407,"y":2.9871},{"p":"c","l":2,"x":2.9955,"y":3.0142},{"p":"c","l":2,"x":2.9653,"y":3.0414}
],
"s10": [{"x":34.2367,"y":5.184},{"x":34.2417,"y":5.209},{"x":34.2432,"y":5.030},{"x":34.2460,"y":5.528},{"x":34.2446,"y":5.886},{"x":34.2374,"y":4.532},{"x":34.2367,"y":4.290},{"x":34.2324,"y":4.251},{"x":34.2897,"y":4.315},{"x":34.2933,"y":4.443},{"x":34.3041,"y":4.979},{"x":34.3155,"y":5.209},{"x":34.3213,"y":4.903},{"x":34.3256,"y":5.171},{"x":34.3084,"y":4.877},{"x":34.2840,"y":4.239}],
"s20": [{"x":34.2303,"y":3.3364},{"x":34.2324,"y":3.3061},{"x":34.2360,"y":3.325},{"x":34.2381,"y":3.3098},{"x":34.2424,"y":3.3364},{"x":34.2460,"y":3.3288},{"x":34.3284,"y":2.8553},{"x":34.3299,"y":2.825},{"x":34.3320,"y":2.8061},{"x":34.2689,"y":3.0485}],
"s21": [{"x":4.138,"y":3.3023},{"x":4.177,"y":3.3326},{"x":4.241,"y":3.3098},{"x":4.408,"y":3.2909},{"x":4.562,"y":3.325},{"x":4.715,"y":3.3136},{"x":4.997,"y":3.3212},{"x":5.203,"y":3.3098},{"x":5.382,"y":3.3023},{"x":5.690,"y":3.3326},{"x":5.844,"y":3.3098},{"x":4.203,"y":3.0977},{"x":4.279,"y":3.0523},{"x":4.228,"y":2.9652},{"x":4.369,"y":2.9841},{"x":4.510,"y":3.022},{"x":4.895,"y":2.8856},{"x":5.126,"y":2.878},{"x":5.228,"y":2.8553},{"x":5.331,"y":2.825},{"x":5.690,"y":2.825}],
"s30": [{"x":34.2904,"y":3.8007},{"x":34.2933,"y":3.7736},{"x":34.2883,"y":3.7261},{"x":34.2933,"y":3.6922},{"x":34.2668,"y":3.6786},{"x":34.2632,"y":3.6244},{"x":34.2926,"y":3.6041},{"x":34.3012,"y":3.638},{"x":34.3112,"y":3.5905},{"x":34.2740,"y":3.5566},{"x":34.2582,"y":3.482},{"x":34.2639,"y":3.4549},{"x":34.2439,"y":3.4142},{"x":34.2510,"y":3.2922},{"x":34.2367,"y":3.2041},{"x":34.2338,"y":3.1227},{"x":34.2310,"y":2.9803},{"x":34.3213,"y":3.4956},{"x":34.3191,"y":3.3397},{"x":34.3313,"y":3.3464},{"x":34.3313,"y":3.2244},{"x":34.3084,"y":3.482}],
"s31": [{"x":4.331,"y":3.482},{"x":4.767,"y":3.4481},{"x":4.895,"y":3.4142},{"x":5.074,"y":3.4685},{"x":5.279,"y":3.4549},{"x":5.356,"y":3.4481},{"x":5.485,"y":3.4142},{"x":5.587,"y":3.6041},{"x":5.741,"y":3.6922},{"x":5.767,"y":3.7803},{"x":5.946,"y":3.7261},{"x":5.715,"y":3.5769},{"x":4.536,"y":3.3058},{"x":4.254,"y":3.2515},{"x":4.177,"y":3.1905}],
"s32": [{"x":3.0407,"y":3.8007},{"x":3.0482,"y":3.7193},{"x":3.0218,"y":3.6922},{"x":3.2177,"y":3.6786},{"x":2.9804,"y":3.638},{"x":3.1424,"y":3.6244},{"x":2.9239,"y":3.5973},{"x":2.9879,"y":3.5634},{"x":2.8524,"y":3.4956},{"x":2.9051,"y":3.482},{"x":3.116,"y":3.4549},{"x":3.1574,"y":3.482},{"x":3.2441,"y":3.3871},{"x":3.2742,"y":3.4142},{"x":3.2591,"y":3.2786},{"x":3.2893,"y":3.1159},{"x":3.3345,"y":2.9803},{"x":2.8072,"y":3.2244},{"x":2.8373,"y":3.2651},{"x":3.0934,"y":3.4685}]
},
"concat": [
{
 "width": 259, "height": 259,
 "layer": [
  {"data": {"name": "h0"}, "mark": {"type": "line", "interpolate": "step-after", "color": "#1b7ccb", "strokeWidth": 1.6, "clip": true},
   "encoding": {"x": {"field": "x", "type": "quantitative", "scale": {"domain": [34.2225, 34.3339], "nice": false, "zero": false}, "axis": {"values": [34.24, 34.28, 34.32], "labels": false, "title": null}},
                "y": {"field": "c", "type": "quantitative", "scale": {"domain": [0, 678], "nice": false}, "axis": {"values": [0,100,200,300,400,500,600], "labels": false, "title": null}}}},
  {"data": {"values": [{"x": 34.2747}, {"x": 34.3016}]}, "mark": {"type": "rule", "color": "#1b7ccb", "strokeWidth": 2, "strokeDash": [6, 4]},
   "encoding": {"x": {"field": "x", "type": "quantitative", "axis": null}}},
  {"data": {"name": "t0"}, "transform": [{"filter": "datum.k == 'm'"}], "mark": {"type": "text", "fontSize": 27.5, "align": "right", "baseline": "alphabetic", "color": "#1a1a1a"},
   "encoding": {"x": {"field": "x", "type": "quantitative", "axis": null}, "y": {"field": "c", "type": "quantitative", "axis": null}, "text": {"field": "t"}}},
  {"data": {"name": "t0"}, "transform": [{"filter": "datum.k == 's'"}], "mark": {"type": "text", "fontSize": 19, "align": "left", "baseline": "alphabetic", "color": "#1a1a1a"},
   "encoding": {"x": {"field": "x", "type": "quantitative", "axis": null}, "y": {"field": "c", "type": "quantitative", "axis": null}, "text": {"field": "t"}}}
 ]
},
{"width": 259, "height": 259, "view": {"stroke": null}, "data": {"values": [{}]}, "mark": {"type": "point", "opacity": 0}, "encoding": {}},
{"width": 259, "height": 259, "view": {"stroke": null},
 "data": {"values": [{"t": "MR samples: EoS-insensitive model", "k": 0}, {"t": "PRL, 121, 161101 (2018)", "k": 1}]},
 "mark": {"type": "text", "font": "Liberation Sans", "fontSize": 40, "fontWeight": "bold", "align": "center", "baseline": "alphabetic", "color": "#000000"},
 "encoding": {"text": {"field": "t"}, "y": {"field": "k", "type": "quantitative", "scale": {"domain": [0.2826, 5.913], "reverse": true, "nice": false, "zero": false}, "axis": null}}},
{"width": 259, "height": 259, "view": {"stroke": null}, "data": {"values": [{}]}, "mark": {"type": "point", "opacity": 0}, "encoding": {}},

{
 "width": 259, "height": 259,
 "encoding": {"x": {"field": "x", "type": "quantitative", "scale": {"domain": [34.2225, 34.3339], "nice": false, "zero": false}, "axis": {"values": [34.24, 34.28, 34.32], "labels": false, "title": null}},
              "y": {"field": "y", "type": "quantitative", "scale": {"domain": [4.024, 6.008], "nice": false, "zero": false}, "axis": {"values": [4.8, 5.6], "format": ".1f", "labelAngle": -45, "labelAlign": "center", "labelBaseline": "middle", "labelPadding": 25, "title": "gamma1", "titlePadding": 28}}},
 "layer": [
  {"data": {"name": "s10"}, "mark": {"type": "point", "filled": true, "size": 12, "color": "#0072c1", "opacity": 0.3, "clip": true}},
  {"data": {"name": "c10"}, "transform": [{"filter": "datum.l == 0"}], "mark": {"type": "line", "interpolate": "linear-closed", "fill": "#bfdcef", "stroke": "#0a6ebd", "strokeWidth": 2.2, "clip": true}, "encoding": {"detail": {"field": "p"}, "order": {"value": null}}},
  {"data": {"name": "c10"}, "transform": [{"filter": "datum.l == 1"}], "mark": {"type": "line", "interpolate": "linear-closed", "fill": "#7fb8e0", "stroke": "#0a6ebd", "strokeWidth": 2.2, "clip": true}, "encoding": {"detail": {"field": "p"}, "order": {"value": null}}},
  {"data": {"name": "c10"}, "transform": [{"filter": "datum.l == 2"}], "mark": {"type": "line", "interpolate": "linear-closed", "fill": "#0072c1", "stroke": "#0072c1", "strokeWidth": 2.2, "clip": true}, "encoding": {"detail": {"field": "p"}, "order": {"value": null}}},
  {"data": {"values": [{"x": 34.2546, "y": 5.426}]}, "mark": {"type": "point", "filled": true, "size": 28, "color": "#0a6ebd", "clip": true}}
 ]
},
{
 "width": 259, "height": 259,
 "layer": [
  {"data": {"name": "h1"}, "mark": {"type": "line", "interpolate": "step-after", "color": "#1b7ccb", "strokeWidth": 1.6, "clip": true},
   "encoding": {"x": {"field": "x", "type": "quantitative", "scale": {"domain": [4.008, 6.0], "nice": false, "zero": false}, "axis": {"values": [4.8, 5.6], "labels": false, "title": null}},
                "y": {"field": "c", "type": "quantitative", "scale": {"domain": [0, 460], "nice": false}, "axis": {"values": [0,100,200,300,400], "labels": false, "title": null}}}},
  {"data": {"values": [{"x": 5.221}, {"x": 5.921}]}, "mark": {"type": "rule", "color": "#1b7ccb", "strokeWidth": 2, "strokeDash": [6, 4]},
   "encoding": {"x": {"field": "x", "type": "quantitative", "axis": null}}},
  {"data": {"name": "t1"}, "transform": [{"filter": "datum.k == 'm'"}], "mark": {"type": "text", "fontSize": 27.5, "align": "right", "baseline": "alphabetic", "color": "#1a1a1a"},
   "encoding": {"x": {"field": "x", "type": "quantitative", "axis": null}, "y": {"field": "c", "type": "quantitative", "axis": null}, "text": {"field": "t"}}},
  {"data": {"name": "t1"}, "transform": [{"filter": "datum.k == 's'"}], "mark": {"type": "text", "fontSize": 19, "align": "left", "baseline": "alphabetic", "color": "#1a1a1a"},
   "encoding": {"x": {"field": "x", "type": "quantitative", "axis": null}, "y": {"field": "c", "type": "quantitative", "axis": null}, "text": {"field": "t"}}}
 ]
},
{"width": 259, "height": 259, "view": {"stroke": null}, "data": {"values": [{}]}, "mark": {"type": "point", "opacity": 0}, "encoding": {}},
{"width": 259, "height": 259, "view": {"stroke": null}, "data": {"values": [{}]}, "mark": {"type": "point", "opacity": 0}, "encoding": {}},

{
 "width": 259, "height": 259,
 "encoding": {"x": {"field": "x", "type": "quantitative", "scale": {"domain": [34.2225, 34.3339], "nice": false, "zero": false}, "axis": {"values": [34.24, 34.28, 34.32], "labels": false, "title": null}},
              "y": {"field": "y", "type": "quantitative", "scale": {"domain": [2.789, 3.378], "nice": false, "zero": false}, "axis": {"values": [2.8, 3.0, 3.2], "format": ".1f", "labelAngle": -45, "labelAlign": "center", "labelBaseline": "middle", "labelPadding": 25, "title": "gamma2", "titlePadding": 28}}},
 "layer": [
  {"data": {"name": "s20"}, "mark": {"type": "point", "filled": true, "size": 12, "color": "#0072c1", "opacity": 0.3, "clip": true}},
  {"data": {"name": "c20"}, "transform": [{"filter": "datum.l == 0"}], "mark": {"type": "line", "interpolate": "linear-closed", "fill": "#bfdcef", "stroke": "#0a6ebd", "strokeWidth": 2.2, "clip": true}, "encoding": {"detail": {"field": "p"}, "order": {"value": null}}},
  {"data": {"name": "c20"}, "transform": [{"filter": "datum.l == 1"}], "mark": {"type": "line", "interpolate": "linear-closed", "fill": "#7fb8e0", "stroke": "#0a6ebd", "strokeWidth": 2.2, "clip": true}, "encoding": {"detail": {"field": "p"}, "order": {"value": null}}},
  {"data": {"name": "c20"}, "transform": [{"filter": "datum.l == 2"}], "mark": {"type": "line", "interpolate": "linear-closed", "fill": "#0072c1", "stroke": "#0072c1", "strokeWidth": 2.2, "clip": true}, "encoding": {"detail": {"field": "p"}, "order": {"value": null}}}
 ]
},
{
 "width": 259, "height": 259,
 "encoding": {"x": {"field": "x", "type": "quantitative", "scale": {"domain": [4.008, 6.0], "nice": false, "zero": false}, "axis": {"values": [4.8, 5.6], "labels": false, "title": null}},
              "y": {"field": "y", "type": "quantitative", "scale": {"domain": [2.789, 3.378], "nice": false, "zero": false}, "axis": {"values": [2.8, 3.0, 3.2], "labels": false, "title": null}}},
 "layer": [
  {"data": {"name": "s21"}, "mark": {"type": "point", "filled": true, "size": 12, "color": "#0072c1", "opacity": 0.3, "clip": true}},
  {"data": {"name": "c21"}, "transform": [{"filter": "datum.l == 0"}], "mark": {"type": "line", "interpolate": "linear-closed", "fill": "#bfdcef", "stroke": "#0a6ebd", "strokeWidth": 2.2, "clip": true}, "encoding": {"detail": {"field": "p"}, "order": {"value": null}}},
  {"data": {"name": "c21"}, "transform": [{"filter": "datum.l == 1"}], "mark": {"type": "line", "interpolate": "linear-closed", "fill": "#7fb8e0", "stroke": "#0a6ebd", "strokeWidth": 2.2, "clip": true}, "encoding": {"detail": {"field": "p"}, "order": {"value": null}}},
  {"data": {"name": "c21"}, "transform": [{"filter": "datum.l == 2"}], "mark": {"type": "line", "interpolate": "linear-closed", "fill": "#0072c1", "stroke": "#0072c1", "strokeWidth": 2.2, "clip": true}, "encoding": {"detail": {"field": "p"}, "order": {"value": null}}},
  {"data": {"name": "c21"}, "transform": [{"filter": "datum.l == 3"}], "mark": {"type": "line", "interpolate": "linear-closed", "fill": "#ffffff", "stroke": "#0a6ebd", "strokeWidth": 2.2, "clip": true}, "encoding": {"detail": {"field": "p"}, "order": {"value": null}}},
  {"data": {"name": "c21"}, "transform": [{"filter": "datum.l == 4"}], "mark": {"type": "line", "interpolate": "linear-closed", "fill": "#bfdcef", "stroke": "#0a6ebd", "strokeWidth": 2.2, "clip": true}, "encoding": {"detail": {"field": "p"}, "order": {"value": null}}}
 ]
},
{
 "width": 259, "height": 259,
 "layer": [
  {"data": {"name": "h2"}, "mark": {"type": "line", "interpolate": "step-after", "color": "#1b7ccb", "strokeWidth": 1.6, "clip": true},
   "encoding": {"x": {"field": "x", "type": "quantitative", "scale": {"domain": [2.785, 3.370], "nice": false, "zero": false}, "axis": {"values": [2.8, 3.0, 3.2], "labels": false, "title": null}},
                "y": {"field": "c", "type": "quantitative", "scale": {"domain": [0, 620], "nice": false}, "axis": {"values": [0,100,200,300,400,500,600], "labels": false, "title": null}}}},
  {"data": {"values": [{"x": 2.971}, {"x": 3.126}]}, "mark": {"type": "rule", "color": "#1b7ccb", "strokeWidth": 2, "strokeDash": [6, 4]},
   "encoding": {"x": {"field": "x", "type": "quantitative", "axis": null}}},
  {"data": {"name": "t2"}, "transform": [{"filter": "datum.k == 'm'"}], "mark": {"type": "text", "fontSize": 27.5, "align": "right", "baseline": "alphabetic", "color": "#1a1a1a"},
   "encoding": {"x": {"field": "x", "type": "quantitative", "axis": null}, "y": {"field": "c", "type": "quantitative", "axis": null}, "text": {"field": "t"}}},
  {"data": {"name": "t2"}, "transform": [{"filter": "datum.k == 's'"}], "mark": {"type": "text", "fontSize": 19, "align": "left", "baseline": "alphabetic", "color": "#1a1a1a"},
   "encoding": {"x": {"field": "x", "type": "quantitative", "axis": null}, "y": {"field": "c", "type": "quantitative", "axis": null}, "text": {"field": "t"}}}
 ]
},
{"width": 259, "height": 259, "view": {"stroke": null}, "data": {"values": [{}]}, "mark": {"type": "point", "opacity": 0}, "encoding": {}},

{
 "width": 259, "height": 259,
 "encoding": {"x": {"field": "x", "type": "quantitative", "scale": {"domain": [34.2225, 34.3339], "nice": false, "zero": false}, "axis": {"values": [34.24, 34.28, 34.32], "format": ".2f", "labelAngle": -45, "labelAlign": "center", "labelBaseline": "middle", "labelPadding": 33, "title": "logp1", "titlePadding": 18}},
              "y": {"field": "y", "type": "quantitative", "scale": {"domain": [2.831, 3.885], "nice": false, "zero": false}, "axis": {"values": [3.2, 3.6], "format": ".1f", "labelAngle": -45, "labelAlign": "center", "labelBaseline": "middle", "labelPadding": 25, "title": "gamma3", "titlePadding": 28}}},
 "layer": [
  {"data": {"name": "s30"}, "mark": {"type": "point", "filled": true, "size": 12, "color": "#0072c1", "opacity": 0.3, "clip": true}},
  {"data": {"name": "c30"}, "transform": [{"filter": "datum.l == 0"}], "mark": {"type": "line", "interpolate": "linear-closed", "fill": "#bfdcef", "stroke": "#0a6ebd", "strokeWidth": 2.2, "clip": true}, "encoding": {"detail": {"field": "p"}, "order": {"value": null}}},
  {"data": {"name": "c30"}, "transform": [{"filter": "datum.l == 1"}], "mark": {"type": "line", "interpolate": "linear-closed", "fill": "#7fb8e0", "stroke": "#0a6ebd", "strokeWidth": 2.2, "clip": true}, "encoding": {"detail": {"field": "p"}, "order": {"value": null}}},
  {"data": {"name": "c30"}, "transform": [{"filter": "datum.l == 2"}], "mark": {"type": "line", "interpolate": "linear-closed", "fill": "#0072c1", "stroke": "#0072c1", "strokeWidth": 2.2, "clip": true}, "encoding": {"detail": {"field": "p"}, "order": {"value": null}}},
  {"data": {"values": [{"x": 34.2840, "y": 3.3627}]}, "mark": {"type": "point", "filled": true, "size": 24, "color": "#0a6ebd", "clip": true}}
 ]
},
{
 "width": 259, "height": 259,
 "encoding": {"x": {"field": "x", "type": "quantitative", "scale": {"domain": [4.008, 6.0], "nice": false, "zero": false}, "axis": {"values": [4.8, 5.6], "format": ".1f", "labelAngle": -45, "labelAlign": "center", "labelBaseline": "middle", "labelPadding": 26, "title": "gamma1", "titlePadding": 32}},
              "y": {"field": "y", "type": "quantitative", "scale": {"domain": [2.831, 3.885], "nice": false, "zero": false}, "axis": {"values": [3.2, 3.6], "labels": false, "title": null}}},
 "layer": [
  {"data": {"name": "s31"}, "mark": {"type": "point", "filled": true, "size": 12, "color": "#0072c1", "opacity": 0.3, "clip": true}},
  {"data": {"name": "c31"}, "transform": [{"filter": "datum.l == 0"}], "mark": {"type": "line", "interpolate": "linear-closed", "fill": "#bfdcef", "stroke": "#0a6ebd", "strokeWidth": 2.2, "clip": true}, "encoding": {"detail": {"field": "p"}, "order": {"value": null}}},
  {"data": {"name": "c31"}, "transform": [{"filter": "datum.l == 1"}], "mark": {"type": "line", "interpolate": "linear-closed", "fill": "#7fb8e0", "stroke": "#0a6ebd", "strokeWidth": 2.2, "clip": true}, "encoding": {"detail": {"field": "p"}, "order": {"value": null}}},
  {"data": {"name": "c31"}, "transform": [{"filter": "datum.l == 2"}], "mark": {"type": "line", "interpolate": "linear-closed", "fill": "#0072c1", "stroke": "#0072c1", "strokeWidth": 2.2, "clip": true}, "encoding": {"detail": {"field": "p"}, "order": {"value": null}}},
  {"data": {"name": "c31"}, "transform": [{"filter": "datum.l == 3"}], "mark": {"type": "line", "interpolate": "linear-closed", "fill": "#ffffff", "stroke": "#0a6ebd", "strokeWidth": 2.2, "clip": true}, "encoding": {"detail": {"field": "p"}, "order": {"value": null}}}
 ]
},
{
 "width": 259, "height": 259,
 "encoding": {"x": {"field": "x", "type": "quantitative", "scale": {"domain": [2.785, 3.370], "nice": false, "zero": false}, "axis": {"values": [2.8, 3.0, 3.2], "format": ".1f", "labelAngle": -45, "labelAlign": "center", "labelBaseline": "middle", "labelPadding": 26, "title": "gamma2", "titlePadding": 32}},
              "y": {"field": "y", "type": "quantitative", "scale": {"domain": [2.831, 3.885], "nice": false, "zero": false}, "axis": {"values": [3.2, 3.6], "labels": false, "title": null}}},
 "layer": [
  {"data": {"name": "s32"}, "mark": {"type": "point", "filled": true, "size": 12, "color": "#0072c1", "opacity": 0.3, "clip": true}},
  {"data": {"name": "c32"}, "transform": [{"filter": "datum.l == 0"}], "mark": {"type": "line", "interpolate": "linear-closed", "fill": "#bfdcef", "stroke": "#0a6ebd", "strokeWidth": 2.2, "clip": true}, "encoding": {"detail": {"field": "p"}, "order": {"value": null}}},
  {"data": {"name": "c32"}, "transform": [{"filter": "datum.l == 1"}], "mark": {"type": "line", "interpolate": "linear-closed", "fill": "#7fb8e0", "stroke": "#0a6ebd", "strokeWidth": 2.2, "clip": true}, "encoding": {"detail": {"field": "p"}, "order": {"value": null}}},
  {"data": {"name": "c32"}, "transform": [{"filter": "datum.l == 2"}], "mark": {"type": "line", "interpolate": "linear-closed", "fill": "#0072c1", "stroke": "#0072c1", "strokeWidth": 2.2, "clip": true}, "encoding": {"detail": {"field": "p"}, "order": {"value": null}}},
  {"data": {"values": [{"x": 2.9804, "y": 3.4685}]}, "mark": {"type": "point", "filled": true, "size": 22, "color": "#0a6ebd", "clip": true}},
  {"data": {"values": [{"x": 3.0218, "y": 3.4658}]}, "mark": {"type": "point", "filled": false, "size": 30, "strokeWidth": 2, "color": "#0a6ebd", "fill": "#bfdcef", "clip": true}}
 ]
},
{
 "width": 259, "height": 259,
 "layer": [
  {"data": {"name": "h3"}, "mark": {"type": "line", "interpolate": "step-after", "color": "#1b7ccb", "strokeWidth": 1.6, "clip": true},
   "encoding": {"x": {"field": "x", "type": "quantitative", "scale": {"domain": [2.815, 3.876], "nice": false, "zero": false}, "axis": {"values": [3.2, 3.6], "format": ".1f", "labelAngle": -45, "labelAlign": "center", "labelBaseline": "middle", "labelPadding": 26, "title": "gamma3", "titlePadding": 32}},
                "y": {"field": "c", "type": "quantitative", "scale": {"domain": [0, 618], "nice": false}, "axis": {"values": [0,100,200,300,400,500,600], "labels": false, "title": null}}}},
  {"data": {"values": [{"x": 2.985}, {"x": 3.128}]}, "mark": {"type": "rule", "color": "#1b7ccb", "strokeWidth": 2, "strokeDash": [6, 4]},
   "encoding": {"x": {"field": "x", "type": "quantitative", "axis": null}}},
  {"data": {"name": "t3"}, "transform": [{"filter": "datum.k == 'm'"}], "mark": {"type": "text", "fontSize": 27.5, "align": "right", "baseline": "alphabetic", "color": "#1a1a1a"},
   "encoding": {"x": {"field": "x", "type": "quantitative", "axis": null}, "y": {"field": "c", "type": "quantitative", "axis": null}, "text": {"field": "t"}}},
  {"data": {"name": "t3"}, "transform": [{"filter": "datum.k == 's'"}], "mark": {"type": "text", "fontSize": 19, "align": "left", "baseline": "alphabetic", "color": "#1a1a1a"},
   "encoding": {"x": {"field": "x", "type": "quantitative", "axis": null}, "y": {"field": "c", "type": "quantitative", "axis": null}, "text": {"field": "t"}}},
  {"data": {"values": [{"t": "Preliminary", "x": 1.0214, "c": 281.5}]}, "mark": {"type": "text", "font": "Liberation Sans", "fontSize": 180, "angle": -24, "align": "left", "baseline": "alphabetic", "color": "#e07060", "opacity": 0.4},
   "encoding": {"x": {"field": "x", "type": "quantitative", "axis": null}, "y": {"field": "c", "type": "quantitative", "axis": null}, "text": {"field": "t"}}}
 ]
}
]
}
